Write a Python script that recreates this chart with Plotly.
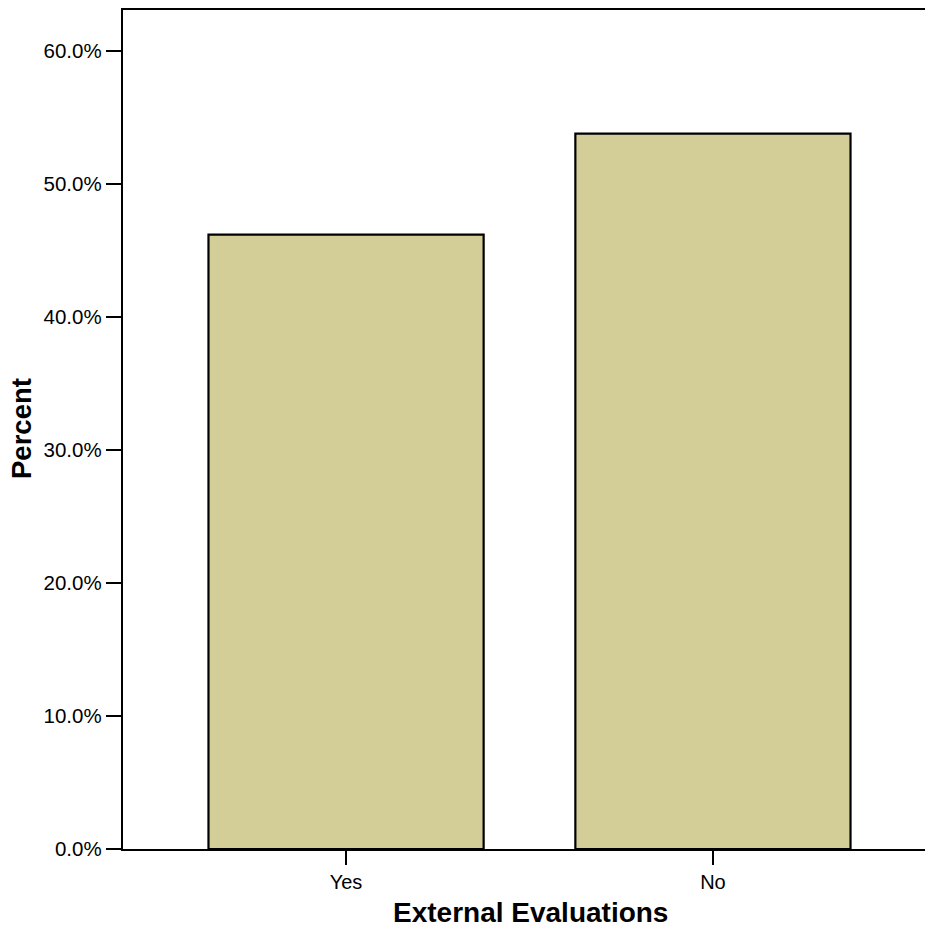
import plotly.graph_objects as go

categories = ["Yes", "No"]
percents = [46.2, 53.8]
y_ticks = [0, 10, 20, 30, 40, 50, 60]
y_tick_labels = ["0.0%", "10.0%", "20.0%", "30.0%", "40.0%", "50.0%", "60.0%"]

W, H = 925, 927
L, R, T, B = 123, 0, 10, 78
FONT = "Liberation Sans, Arial, sans-serif"

fig = go.Figure()
fig.add_trace(go.Bar(
    x=categories, y=percents, width=0.75,
    marker=dict(color="#d3ce98", line=dict(color="black", width=2.2)),
    hoverinfo="skip",
))

fig.update_layout(
    width=W, height=H,
    margin=dict(l=L, r=R, t=T, b=B),
    paper_bgcolor="white", plot_bgcolor="white",
    showlegend=False,
    font=dict(family=FONT, color="black", size=20),
    xaxis=dict(
        type="category", range=[-0.608, 1.578],
        showline=True, linecolor="black", linewidth=2.4, mirror=True,
        ticks="outside", ticklen=14, tickwidth=2.4, tickcolor="black",
        showgrid=False, zeroline=False,
        tickfont=dict(size=20, family=FONT),
    ),
    yaxis=dict(
        range=[0, 63.1],
        tickvals=y_ticks, ticktext=y_tick_labels,
        showline=True, linecolor="black", linewidth=2.4,
        ticks="outside", ticklen=15, tickwidth=2.4, tickcolor="black",
        showgrid=False, zeroline=False,
        tickfont=dict(size=20.5, family=FONT),
    ),
    annotations=[
        dict(text="<b>External Evaluations</b>", xref="paper", yref="paper",
             x=(530 - L) / (W - L - R), y=-(912 - (H - B)) / (H - T - B),
             xanchor="center", yanchor="middle", showarrow=False,
             font=dict(size=28, family=FONT, color="black")),
        dict(text="<b>Percent</b>", xref="paper", yref="paper",
             x=-(L - 22) / (W - L - R), y=(H - B - 428) / (H - T - B),
             xanchor="center", yanchor="middle", textangle=-90, showarrow=False,
             font=dict(size=27.5, family=FONT, color="black")),
    ],
)

fig.write_html(
    "out.html",
    config={"displayModeBar": False},
    post_script="document.body.style.margin='0';document.body.style.overflow='hidden';",
)
